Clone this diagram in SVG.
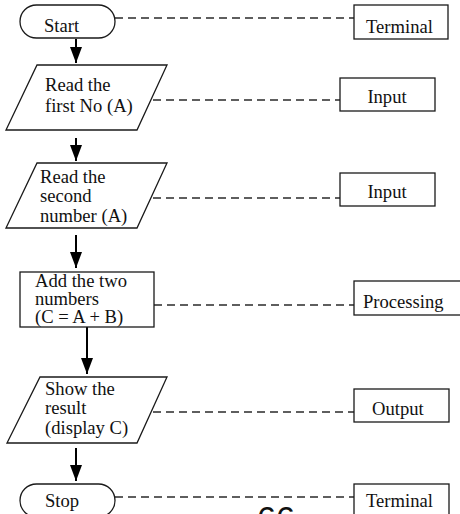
<svg xmlns="http://www.w3.org/2000/svg" width="460" height="514" viewBox="0 0 460 514">
  <style>
    .shape { fill: #ffffff; stroke: #1a1a1a; stroke-width: 1.3; }
    .box { fill: #ffffff; stroke: #1a1a1a; stroke-width: 1.3; }
    .lbl { font-family: "Liberation Serif", "Times New Roman", serif; font-size: 18.6px; fill: #111111; }
    .dash { stroke: #2a2a2a; stroke-width: 1.3; stroke-dasharray: 8 5; fill: none; }
    .flow { stroke: #000000; stroke-width: 2; fill: none; }
    .page { font-family: "Liberation Sans", Arial, sans-serif; font-size: 34px; fill: #111111; }
  </style>
  <defs>
    <marker id="head" markerUnits="userSpaceOnUse" markerWidth="16" markerHeight="12" refX="16" refY="6" orient="auto">
      <path d="M0,0 L16,6 L0,12 Z" fill="#000000"/>
    </marker>
  </defs>
  <rect width="460" height="514" fill="#ffffff"/>

  <!-- connectors: flow arrows and dashed legend leaders -->
  <g id="connectors">
    <line class="flow" x1="76" y1="39" x2="76" y2="63" marker-end="url(#head)"/>
    <line class="flow" x1="76" y1="138" x2="76" y2="161" marker-end="url(#head)"/>
    <line class="flow" x1="76" y1="235" x2="76" y2="268" marker-end="url(#head)"/>
    <line class="flow" x1="87" y1="327" x2="87" y2="374" marker-end="url(#head)"/>
    <line class="flow" x1="76" y1="448" x2="76" y2="481" marker-end="url(#head)"/>

    <line class="dash" x1="115" y1="18" x2="354" y2="18"/>
    <line class="dash" x1="153" y1="100" x2="340" y2="100"/>
    <line class="dash" x1="153" y1="198" x2="340" y2="198"/>
    <line class="dash" x1="154" y1="305" x2="354" y2="305"/>
    <line class="dash" x1="153" y1="412" x2="354" y2="412"/>
    <line class="dash" x1="115" y1="497" x2="354" y2="497"/>
  </g>

  <!-- flowchart nodes -->
  <g id="start">
    <rect class="shape" x="20" y="5" width="95" height="33" rx="16.5" ry="16.5"/>
    <text class="lbl" x="44" y="32">Start</text>
  </g>
  <g id="read-first">
    <polygon class="shape" points="37,65 167,65 137,130 6,130"/>
    <text class="lbl" x="45" y="91">Read the</text>
    <text class="lbl" x="45" y="112">first No (A)</text>
  </g>
  <g id="read-second">
    <polygon class="shape" points="37,163 167,163 137,228 6,228"/>
    <text class="lbl" x="40" y="183">Read the</text>
    <text class="lbl" x="40" y="202">second</text>
    <text class="lbl" x="40" y="222">number (A)</text>
  </g>
  <g id="add">
    <rect class="shape" x="20" y="272" width="134" height="55"/>
    <text class="lbl" x="35" y="287">Add the two</text>
    <text class="lbl" x="35" y="305">numbers</text>
    <text class="lbl" x="35" y="323">(C = A + B)</text>
  </g>
  <g id="show">
    <polygon class="shape" points="40,377 167,377 137,443 7,443"/>
    <text class="lbl" x="45" y="395">Show the</text>
    <text class="lbl" x="45" y="414">result</text>
    <text class="lbl" x="45" y="434">(display C)</text>
  </g>
  <g id="stop">
    <rect class="shape" x="20" y="484" width="95" height="33" rx="16.5" ry="16.5"/>
    <text class="lbl" x="45" y="507">Stop</text>
  </g>

  <!-- symbol legend boxes -->
  <g id="legend-terminal-1">
    <rect class="box" x="354" y="5" width="94" height="34"/>
    <text class="lbl" x="366" y="33">Terminal</text>
  </g>
  <g id="legend-input-1">
    <rect class="box" x="340" y="78" width="95" height="33"/>
    <text class="lbl" x="387" y="103" text-anchor="middle">Input</text>
  </g>
  <g id="legend-input-2">
    <rect class="box" x="340" y="173" width="95" height="33"/>
    <text class="lbl" x="387" y="198" text-anchor="middle">Input</text>
  </g>
  <g id="legend-processing">
    <rect class="box" x="354" y="281" width="108" height="34"/>
    <text class="lbl" x="363" y="308">Processing</text>
  </g>
  <g id="legend-output">
    <rect class="box" x="354" y="389" width="95" height="33"/>
    <text class="lbl" x="372" y="415">Output</text>
  </g>
  <g id="legend-terminal-2">
    <rect class="box" x="354" y="484" width="95" height="34"/>
    <text class="lbl" x="366" y="507">Terminal</text>
  </g>

  <!-- page number -->
  <text class="page" x="257" y="530">66</text>
</svg>
